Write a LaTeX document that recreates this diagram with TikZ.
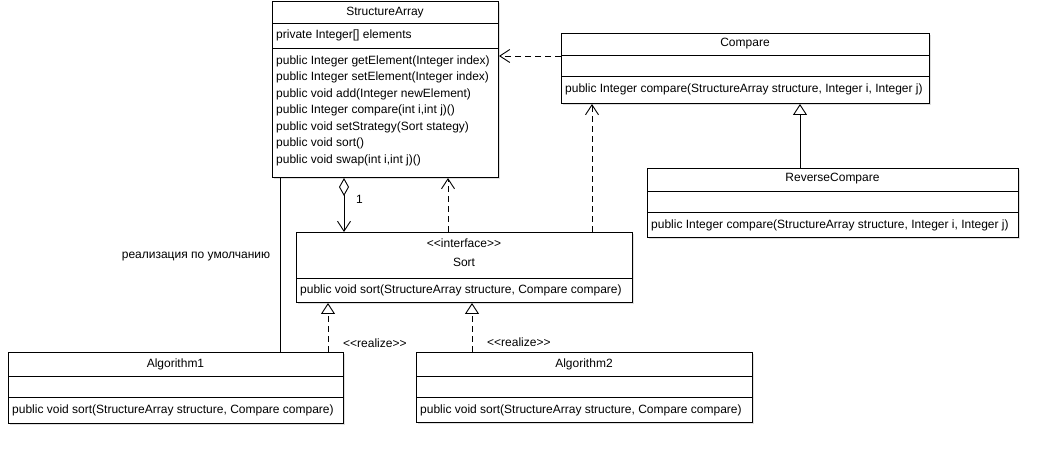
\documentclass[tikz,border=0pt]{standalone}
\usepackage{fontspec}
\setmainfont{Liberation Sans}
\usetikzlibrary{arrows.meta,shadows}
\begin{document}
\begin{tikzpicture}[x=1pt,y=-1pt,
  every node/.style={font=\fontsize{12}{14}\selectfont},
  cls/.style={draw,fill=white,line width=1pt,rectangle,inner sep=0pt,anchor=north west,
    drop shadow={shadow xshift=1.5pt,shadow yshift=-1.5pt,fill=black!25}},
  sepline/.style={line width=1pt},
  ltxt/.style={inner sep=0pt,anchor=west},
  ctxt/.style={inner sep=0pt,anchor=center},
  conn/.style={line width=0.9pt},
  dashconn/.style={conn,dash pattern=on 6pt off 4pt},
  openhead/.style={-{Straight Barb[length=10pt,width=13pt,line width=0.9pt]}},
  trihead/.style={-{Triangle[open,length=11pt,width=14pt,fill=white,line width=0.9pt]}}
]
\useasboundingbox (0,0) rectangle (1047,462);

% ---- StructureArray
\node[cls,minimum width=226pt,minimum height=176pt] (sa) at (272,1) {};
\draw[sepline] (sa.west |- 0,24) -- (sa.east |- 0,24);
\draw[sepline] (sa.west |- 0,49) -- (sa.east |- 0,49);
\node[ctxt] (saT) at (385,12.5) {StructureArray};
\node[ltxt] (saA) at (276,35) {private Integer[] elements};
\node[ltxt] (saM1) at (276,61) {public Integer getElement(Integer index)};
\node[ltxt] (saM2) at (276,77.5) {public Integer setElement(Integer index)};
\node[ltxt] (saM3) at (276,94) {public void add(Integer newElement)};
\node[ltxt] (saM4) at (276,110.5) {public Integer compare(int i,int j)()};
\node[ltxt] (saM5) at (276,127) {public void setStrategy(Sort stategy)};
\node[ltxt] (saM6) at (276,143.5) {public void sort()};
\node[ltxt] (saM7) at (276,160) {public void swap(int i,int j)()};

% ---- Compare
\node[cls,minimum width=368pt,minimum height=70pt] (cmp) at (561,33) {};
\draw[sepline] (cmp.west |- 0,56) -- (cmp.east |- 0,56);
\draw[sepline] (cmp.west |- 0,77) -- (cmp.east |- 0,77);
\node[ctxt] (cmpT) at (745,43.5) {Compare};
\node[ltxt] (cmpM) at (565,89) {public Integer compare(StructureArray structure, Integer i, Integer j)};

% ---- ReverseCompare
\node[cls,minimum width=371pt,minimum height=69pt] (rc) at (647,168) {};
\draw[sepline] (rc.west |- 0,192) -- (rc.east |- 0,192);
\draw[sepline] (rc.west |- 0,213) -- (rc.east |- 0,213);
\node[ctxt] (rcT) at (832.5,179) {ReverseCompare};
\node[ltxt] (rcM) at (651,225) {public Integer compare(StructureArray structure, Integer i, Integer j)};

% ---- Sort
\node[cls,minimum width=336pt,minimum height=70pt] (sort) at (296,232) {};
\draw[sepline] (sort.west |- 0,279) -- (sort.east |- 0,279);
\node[ctxt] (sortS) at (464,243) {{<}{<}interface{>}{>}};
\node[ctxt] (sortT) at (464,262) {Sort};
\node[ltxt] (sortM) at (300,290) {public void sort(StructureArray structure, Compare compare)};

% ---- Algorithm1
\node[cls,minimum width=335pt,minimum height=71pt] (alg1) at (8,352) {};
\draw[sepline] (alg1.west |- 0,376) -- (alg1.east |- 0,376);
\draw[sepline] (alg1.west |- 0,397) -- (alg1.east |- 0,397);
\node[ctxt] (alg1T) at (175.5,364) {Algorithm1};
\node[ltxt] (alg1M) at (12,410) {public void sort(StructureArray structure, Compare compare)};

% ---- Algorithm2
\node[cls,minimum width=336pt,minimum height=70pt] (alg2) at (416,352) {};
\draw[sepline] (alg2.west |- 0,376) -- (alg2.east |- 0,376);
\draw[sepline] (alg2.west |- 0,397) -- (alg2.east |- 0,397);
\node[ctxt] (alg2T) at (584,364) {Algorithm2};
\node[ltxt] (alg2M) at (420,410) {public void sort(StructureArray structure, Compare compare)};

% ---- connectors
% Compare uses StructureArray
\draw[dashconn,openhead] (cmp.west |- 0,56) -- (sa.east |- 0,56);
% ReverseCompare generalizes Compare
\draw[conn,trihead] (rc.north -| 800,0) -- (cmp.south -| 800,0);
% aggregation StructureArray -> Sort
\draw[conn,{Diamond[open,length=18pt,width=10pt,fill=white,line width=0.9pt]}-{Straight Barb[length=10pt,width=13pt,line width=0.9pt]}]
  (sa.south -| 344,0) -- (sort.north -| 344,0);
\node[ltxt] (mult) at (356,199) {1};
% Sort uses StructureArray
\draw[dashconn,openhead] (sort.north -| 448,0) -- (sa.south -| 448,0);
% Sort uses Compare
\draw[dashconn,openhead] (sort.north -| 592,0) -- (cmp.south -| 592,0);
% default implementation
\draw[conn] (sa.south -| 280,0) -- (alg1.north -| 280,0);
\node[ctxt] (defl) at (196,257) {реализация по умолчанию};
% realizations
\draw[dashconn,trihead] (alg1.north -| 328,0) -- (sort.south -| 328,0);
\node[ltxt] (real1) at (343,343) {{<}{<}realize{>}{>}};
\draw[dashconn,trihead] (alg2.north -| 472,0) -- (sort.south -| 472,0);
\node[ltxt] (real2) at (487,342) {{<}{<}realize{>}{>}};
\end{tikzpicture}
\end{document}
